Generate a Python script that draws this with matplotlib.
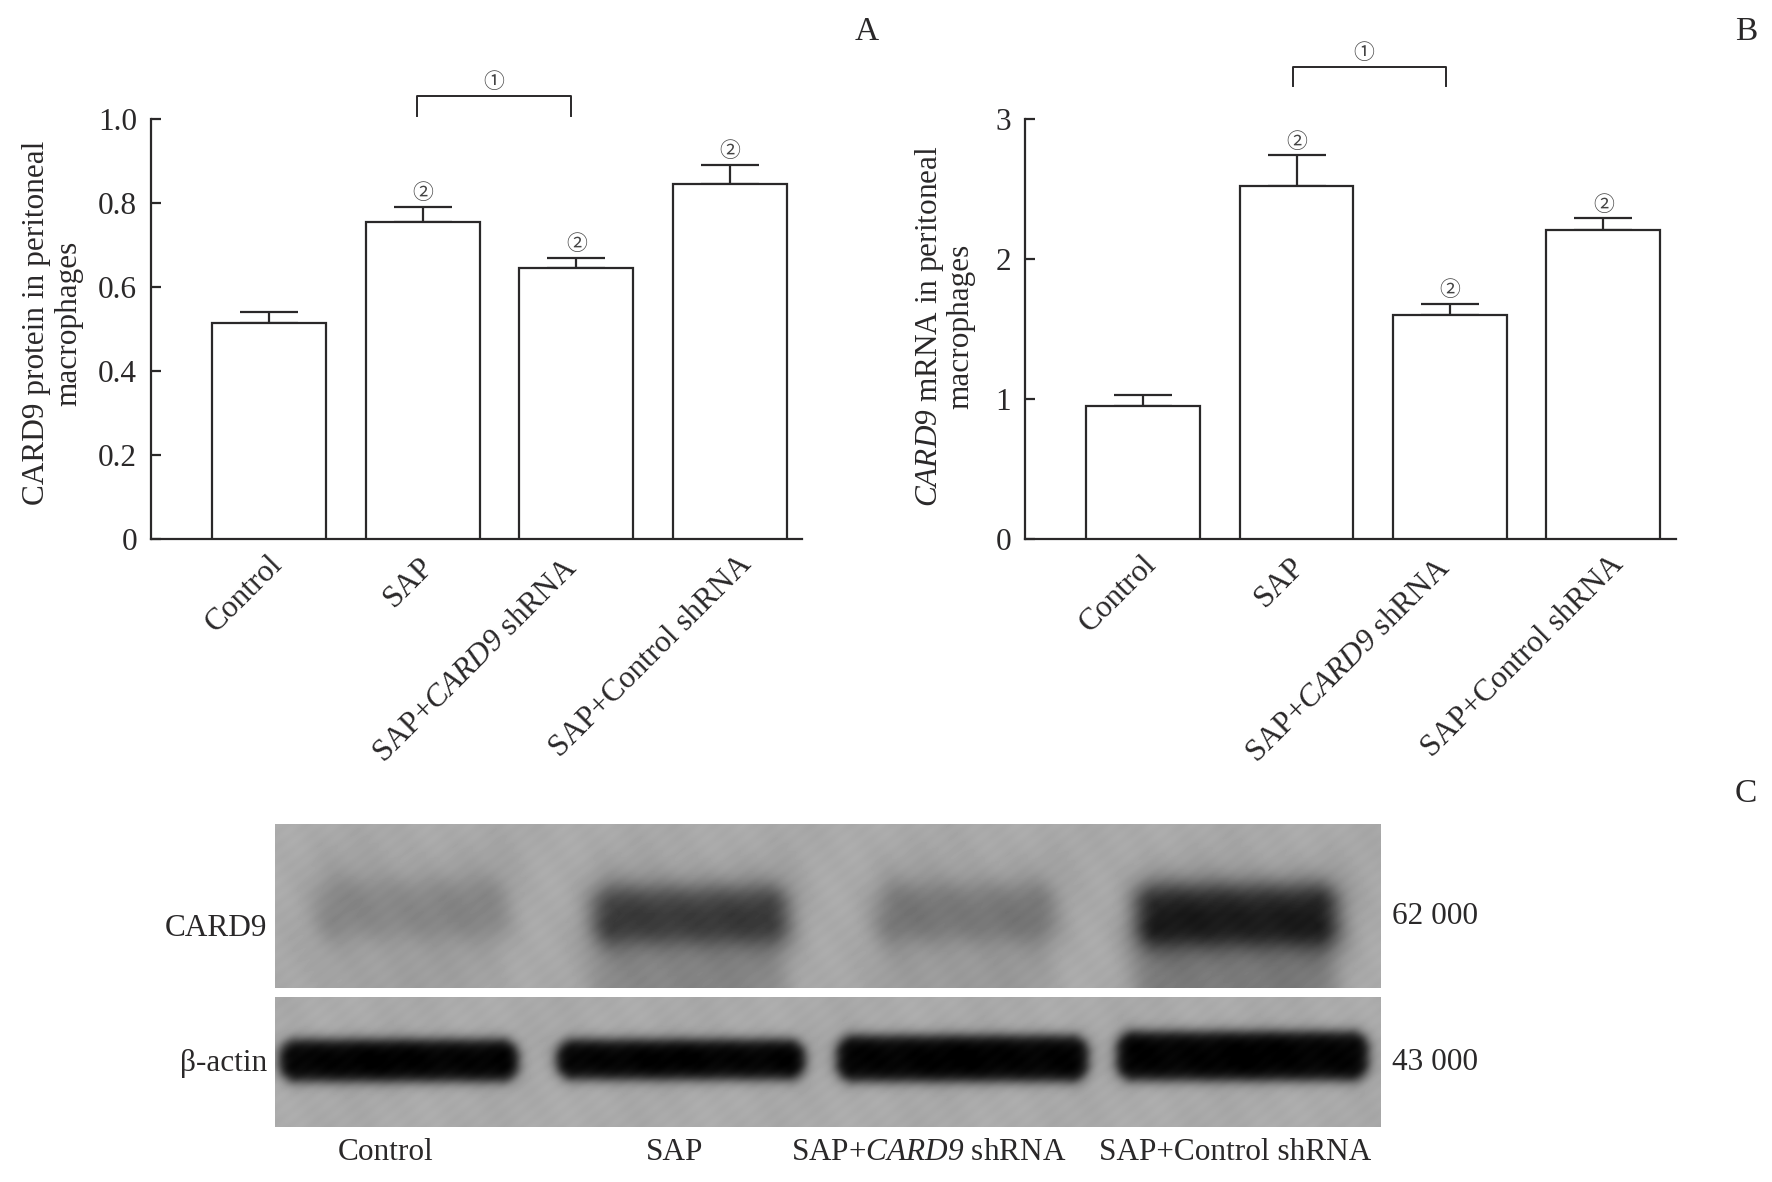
import numpy as np
import matplotlib
matplotlib.use("Agg")
import matplotlib.pyplot as plt

plt.rcParams['font.family'] = ['Liberation Serif', 'DejaVu Sans']
plt.rcParams['mathtext.fontset'] = 'custom'
plt.rcParams['mathtext.rm'] = 'Liberation Serif'
# bf slot holds the italic face, the it slot keeps digits upright
plt.rcParams['mathtext.bf'] = 'Liberation Serif:italic'

W, H = 1772, 1182
INK = '#2a2829'
FS = 22.5

groups = ['Control', 'SAP', r'SAP+$\mathbf{CARD9}$ shRNA', 'SAP+Control shRNA']

protein = [0.515, 0.755, 0.645, 0.845]
protein_err = [0.025, 0.035, 0.025, 0.045]
protein_ticks = [0, 0.2, 0.4, 0.6, 0.8, 1.0]
protein_ticklabels = ['0', '0.2', '0.4', '0.6', '0.8', '1.0']

mrna = [0.95, 2.52, 1.60, 2.21]
mrna_err = [0.08, 0.22, 0.08, 0.08]
mrna_ticks = [0, 1, 2, 3]
mrna_ticklabels = ['0', '1', '2', '3']

# blot bands: left, right, top, bottom, darkness
card9_bands = [(318, 507, 880, 935, 0.11), (594, 787, 887, 940, 0.40), (878, 1053, 884, 938, 0.17), (1136, 1336, 885, 943, 0.52)]
actin_bands = [(279, 518, 1039, 1081, 0.66), (556, 805, 1039, 1079, 0.66), (836, 1088, 1035, 1081, 0.66), (1116, 1368, 1031, 1080, 0.66)]
blot_labels = ['Control', 'SAP', r'SAP+$\mathbf{CARD9}$ shRNA', 'SAP+Control shRNA']
blot_label_x = [386, 675, 929, 1235]

fig = plt.figure(figsize=(W / 100, H / 100), dpi=100)


def px_axes(left, top, right, bottom):
    return fig.add_axes([left / W, 1 - bottom / H, (right - left) / W, (bottom - top) / H])


def px_text(x, y, s, **kw):
    kw.setdefault('color', INK)
    kw.setdefault('fontsize', FS)
    return fig.text(x / W, 1 - y / H, s, **kw)


def bar_panel(box, xlim, ylim, values, errs, ticks, ticklabels, bracket, label_shift, one_shift):
    ax = px_axes(*box)
    xs = np.arange(len(values))
    ax.bar(xs, values, width=0.743, color='white', edgecolor=INK, linewidth=1.6, zorder=3)
    ax.errorbar(xs, values, yerr=[np.zeros(len(errs)), errs], fmt='none', ecolor=INK,
                elinewidth=1.6, capsize=21, capthick=1.6, zorder=2)
    ax.set_xlim(*xlim)
    ax.set_ylim(*ylim)
    for s in ['top', 'right']:
        ax.spines[s].set_visible(False)
    for s in ['left', 'bottom']:
        ax.spines[s].set_linewidth(1.6)
        ax.spines[s].set_color(INK)
    ax.set_xticks([])
    ax.set_yticks(ticks)
    ax.set_yticklabels(ticklabels, fontsize=FS, color=INK)
    ax.tick_params(axis='y', direction='in', length=7, width=1.6, color=INK, pad=10)

    # significance marks above the error bars
    for i in range(1, len(values)):
        ax.annotate('②', (i, values[i] + errs[i]), xytext=(0, 10), textcoords='offset points',
                    ha='center', va='center', fontsize=15, color='#444444',
                    family=['Noto Sans CJK SC', 'DejaVu Sans'], annotation_clip=False)

    bx0, bx1, by0, by1 = bracket
    ax.plot([bx0, bx0, bx1, bx1], [by1, by0, by0, by1], color=INK, lw=1.4, clip_on=False)
    ax.annotate('①', ((bx0 + bx1) / 2, by0), xytext=(one_shift, 10), textcoords='offset points',
                ha='center', va='center', fontsize=15, color='#444444',
                family=['Noto Sans CJK SC', 'DejaVu Sans'], annotation_clip=False)

    for i, name in enumerate(groups):
        ax.annotate(name, (i, 0), xytext=label_shift[i], textcoords='offset points',
                    rotation=45, rotation_mode='anchor', ha='right', va='top',
                    fontsize=FS, color=INK, annotation_clip=False)
    return ax


bar_panel((151, 119, 802, 539), (-0.768, 3.468), (0, 1.0),
          protein, protein_err, protein_ticks, protein_ticklabels,
          (0.962, 1.967, 1.054, 1.008), [(-1, -8), (-3, -9), (-10, -10), (5, -8)], 0)
bar_panel((1025, 119, 1676, 539), (-0.770, 3.474), (0, 3.0),
          mrna, mrna_err, mrna_ticks, mrna_ticklabels,
          (0.974, 1.974, 3.37, 3.235), [(-1, -8), (-5, -9), (-10, -10), (4, -8)], -4)

px_text(37, 323, 'CARD9 protein in peritoneal', rotation=90, ha='center', va='center')
px_text(69, 323, 'macrophages', rotation=90, ha='center', va='center')
px_text(929, 326, r'$\mathbf{CARD9}$ mRNA in peritoneal', rotation=90, ha='center', va='center')
px_text(961, 326, 'macrophages', rotation=90, ha='center', va='center')

px_text(867, 32, 'A', ha='center', va='center', fontsize=24)
px_text(1746, 32, 'B', ha='center', va='center', fontsize=24)
px_text(1746, 794, 'C', ha='center', va='center', fontsize=24)


def band_mask(xg, yg, a, b, t, u, rad, soft):
    # rounded box with soft edges
    qx = np.abs(xg - (a + b) / 2) - (b - a) / 2 + rad
    qy = np.abs(yg - (t + u) / 2) - (u - t) / 2 + rad
    dist = np.hypot(np.maximum(qx, 0), np.maximum(qy, 0)) + np.minimum(np.maximum(qx, qy), 0) - rad
    return 0.5 * (1 - np.tanh(dist / soft))


def blot(top, bottom, bands, rad, soft, smear):
    ax = px_axes(275, top, 1381, bottom)
    xg, yg = np.meshgrid(np.arange(275, 1381), np.arange(top, bottom))
    # faint film mottling
    img = 0.665 + 0.008 * np.sin(xg / 23.0 + yg / 41.0) + 0.006 * np.sin(xg / 7.3 - yg / 11.0) \
        + 0.005 * np.sin(xg / 3.1 + yg / 2.3)
    for a, b, t, u, dark in bands:
        img = img - dark * band_mask(xg, yg, a, b, t, u, rad, soft)
        if smear > 0:
            img = img - smear * dark * band_mask(xg, yg, a, b, u - 10, bottom + 40, rad, 18)
            img = img - 0.035 * band_mask(xg, yg, a - 8, b + 8, t - 30, u, rad, 22)
    ax.imshow(np.clip(img, 0, 1), cmap='gray', vmin=0, vmax=1, aspect='auto')
    ax.axis('off')


blot(824, 988, card9_bands, 20, 15, 0.36)
blot(997, 1127, actin_bands, 18, 7, 0.0)

px_text(267, 928, 'CARD9', ha='right', va='center')
px_text(267, 1063, 'β-actin', ha='right', va='center')
px_text(1392, 917, '62 000', ha='left', va='center')
px_text(1392, 1063, '43 000', ha='left', va='center')
for x, s in zip(blot_label_x, blot_labels):
    px_text(x, 1153, s, ha='center', va='center')

fig.savefig('out.png', dpi=100, facecolor='white')
